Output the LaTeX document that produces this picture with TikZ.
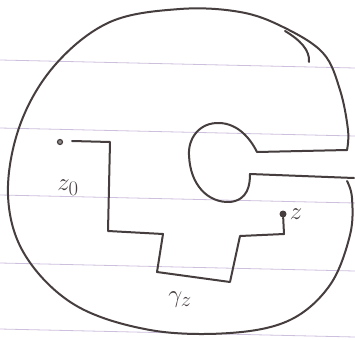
\documentclass[tikz,border=0pt]{standalone}
\usetikzlibrary{positioning}
\definecolor{ink}{RGB}{70,62,62}
\definecolor{ruled}{RGB}{205,192,222}
\tikzset{
  pen/.style={draw=ink, line width=2pt, line join=round, line cap=round},
  paperline/.style={draw=ruled, line width=0.8pt},
  lbl/.style={text=ink, font=\fontsize{28}{28}\selectfont, inner sep=1pt}
}
\begin{document}
\begin{tikzpicture}[x=1pt, y=-1pt]
        \useasboundingbox[fill=white] (0,0) rectangle (355,339);
        % ruled paper
        \foreach \ly in {60,128,195,263,329}
            \draw[paperline] (0,\ly) -- (355,\ly+8);

        % outer boundary with the slot
        \draw[pen] plot[smooth, tension=0.6] coordinates {(347,150) (348,130) (340,90) (323,53) (283,27) (240,12) (180,9) (110,22) (55,65) (20,125) (8,195) (25,255) (75,305) (150,330) (230,333) (290,320) (330,285) (350,235) (352,198) (347,181)};
        \draw[pen] (285,31) .. controls (300,40) and (310,50) .. (309,62);
        % hole with its channel
        \draw[pen] (347,150) -- (257,152) .. controls (250,138) and (238,124) .. (220,123)
            .. controls (198,122) and (188,140) .. (189,155)
            .. controls (190,185) and (208,203) .. (230,202)
            .. controls (248,200) and (250,185) .. (250,174) -- (354,178);

        % points
        \node (zzero) [circle, draw=ink, line width=1.2pt, fill=ink!60, inner sep=0pt, minimum size=5pt] at (60,142) {};
        \node (zend) [circle, fill=ink, inner sep=0pt, minimum size=7pt] at (283,214) {};
        \node (zzerolbl) [lbl] at (68,188) {$z_0$};
        \node (zendlbl) [lbl, right=2pt of zend] {$z$};

        % the staircase path
        \draw[pen] (72,141) -- (110,142) -- (108,231) -- (163,234) -- (157,272)
            -- (230,282) -- (240,236) -- (284,234) -- (zend);
        \node (gammalbl) [lbl] at (180,300) {$\gamma_z$};
    \end{tikzpicture}
\end{document}
